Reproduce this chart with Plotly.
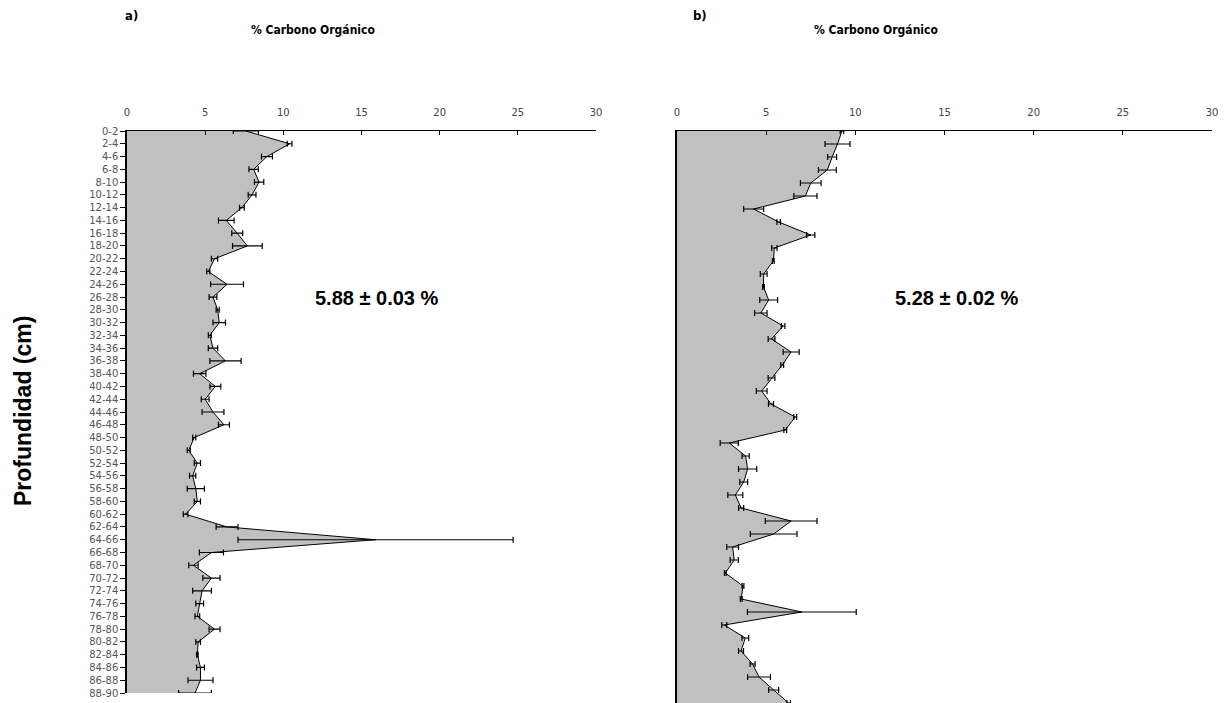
import plotly.graph_objects as go

depth_labels = ["0-2", "2-4", "4-6", "6-8", "8-10", "10-12", "12-14", "14-16", "16-18", "18-20",
                "20-22", "22-24", "24-26", "26-28", "28-30", "30-32", "32-34", "34-36", "36-38", "38-40",
                "40-42", "42-44", "44-46", "46-48", "48-50", "50-52", "52-54", "54-56", "56-58", "58-60",
                "60-62", "62-64", "64-66", "66-68", "68-70", "70-72", "72-74", "74-76", "76-78", "78-80",
                "80-82", "82-84", "84-86", "86-88", "88-90"]

carbon_a = [7.6, 10.4, 8.95, 8.1, 8.45, 8.0, 7.35, 6.35, 7.05, 7.7,
            5.6, 5.2, 6.4, 5.5, 5.8, 5.9, 5.3, 5.5, 6.3, 4.65,
            5.65, 5.0, 5.5, 6.2, 4.3, 3.95, 4.5, 4.2, 4.4, 4.5,
            3.75, 6.4, 15.9, 5.4, 4.25, 5.4, 4.8, 4.65, 4.5, 5.6,
            4.55, 4.5, 4.7, 4.7, 4.35]
err_a = [0.8, 0.15, 0.35, 0.3, 0.3, 0.25, 0.15, 0.5, 0.35, 0.95,
         0.2, 0.1, 1.05, 0.25, 0.1, 0.4, 0.1, 0.3, 1.0, 0.4,
         0.35, 0.25, 0.7, 0.35, 0.1, 0.1, 0.2, 0.2, 0.55, 0.2,
         0.15, 0.7, 8.8, 0.77, 0.3, 0.55, 0.6, 0.25, 0.15, 0.35,
         0.15, 0.05, 0.25, 0.8, 1.05]

carbon_b = [9.25, 9.0, 8.7, 8.43, 7.5, 7.2, 4.3, 5.7, 7.5, 5.46,
            5.4, 4.86, 4.85, 5.14, 4.7, 5.95, 5.3, 6.4, 5.9, 5.3,
            4.75, 5.27, 6.63, 6.07, 2.93, 3.85, 3.96, 3.74, 3.27, 3.6,
            6.4, 5.42, 3.12, 3.21, 2.71, 3.7, 3.6, 7.0, 2.65, 3.83,
            3.59, 4.24, 4.6, 5.42, 6.26]
err_b = [0.1, 0.7, 0.25, 0.5, 0.58, 0.65, 0.56, 0.1, 0.23, 0.15,
         0.05, 0.19, 0.05, 0.5, 0.35, 0.1, 0.19, 0.45, 0.08, 0.19,
         0.3, 0.14, 0.08, 0.08, 0.51, 0.2, 0.51, 0.22, 0.42, 0.14,
         1.45, 1.31, 0.33, 0.23, 0.05, 0.05, 0.05, 3.05, 0.14, 0.19,
         0.14, 0.14, 0.64, 0.28, 0.1]

x_ticks = [0, 5, 10, 15, 20, 25, 30]
panel_titles = ["% Carbono Orgánico", "% Carbono Orgánico"]
panel_letters = ["a)", "b)"]
means = ["5.88 ± 0.03 %", "5.28 ± 0.02 %"]

# page body has an 8px margin; the figure fills the rest of the window
OFF = 8
W, H = 1229 - OFF, 703 - OFF
FILL = "#c0c0c0"
narrow = "DejaVu Sans Condensed, Liberation Sans Narrow, sans-serif"

fig = go.Figure()
pos_a = list(range(len(carbon_a)))
pos_b = list(range(len(carbon_b)))

fig.add_trace(go.Scatter(
    x=carbon_a, y=pos_a, mode="lines", fill="tozerox", fillcolor=FILL,
    line=dict(color="black", width=1),
    error_x=dict(type="data", array=err_a, color="black", thickness=1.2, width=3),
    xaxis="x", yaxis="y", showlegend=False))
fig.add_trace(go.Scatter(
    x=carbon_b, y=pos_b, mode="lines", fill="tozerox", fillcolor=FILL,
    line=dict(color="black", width=1),
    error_x=dict(type="data", array=err_b, color="black", thickness=1.2, width=3),
    xaxis="x2", yaxis="y2", showlegend=False))

def px_x(p):
    return (p - OFF) / W

def px_y(p):
    return min(1.0, max(0.0, 1 - (p - OFF) / H))

tickfont = dict(family="DejaVu Sans", size=10, color="#444")
xcommon = dict(range=[0, 30], side="top", tickvals=x_ticks, showline=True, linecolor="black",
               linewidth=1, ticks="inside", ticklen=4, tickcolor="black", showgrid=False,
               zeroline=False, tickfont=tickfont, fixedrange=True, automargin=False,
               ticklabelstandoff=10)

fig.update_layout(
    width=W, height=H, margin=dict(l=0, r=0, t=0, b=0, autoexpand=False),
    plot_bgcolor="white", paper_bgcolor="white",
    xaxis=dict(domain=[px_x(127), px_x(596)], anchor="y", **xcommon),
    xaxis2=dict(domain=[px_x(677), px_x(1212)], anchor="y2", **xcommon),
    yaxis=dict(domain=[px_y(693), px_y(131)], range=[44, 0], anchor="x",
               tickvals=pos_a, ticktext=depth_labels, showline=True, linecolor="black",
               linewidth=1.5, ticks="outside", ticklen=5, tickcolor="black", automargin=False,
               showgrid=False, zeroline=False, tickfont=dict(family="DejaVu Sans", size=10, color="#555")),
    yaxis2=dict(domain=[0, px_y(131)], range=[44, 0], anchor="x2", automargin=False,
                showline=True, linecolor="black", linewidth=1.5, showticklabels=False,
                ticks="", showgrid=False, zeroline=False),
)

def note(x, y, text, font, angle=0):
    return dict(x=px_x(x), y=px_y(y), xref="paper", yref="paper", text=text,
                xanchor="center", yanchor="middle", textangle=angle,
                showarrow=False, font=font)

annotations = []
for xt, xl, t, l in [(313, 132, panel_titles[0], panel_letters[0]),
                     (876, 700, panel_titles[1], panel_letters[1])]:
    annotations.append(note(xt, 30, "<b>" + t + "</b>", dict(family=narrow, size=12, color="black")))
    annotations.append(note(xl, 16, "<b>" + l + "</b>", dict(family=narrow, size=13, color="black")))
big = dict(family="Liberation Sans, Arial", size=20, color="black")
annotations.append(note(376, 298, "<b>" + means[0] + "</b>", big))
annotations.append(note(956, 298, "<b>" + means[1] + "</b>", big))
annotations.append(note(23, 411, "<b>Profundidad (cm)</b>",
                        dict(family="Liberation Sans, Arial", size=23, color="black"), angle=-90))
fig.update_layout(annotations=annotations)

fig.write_html("out.html")
